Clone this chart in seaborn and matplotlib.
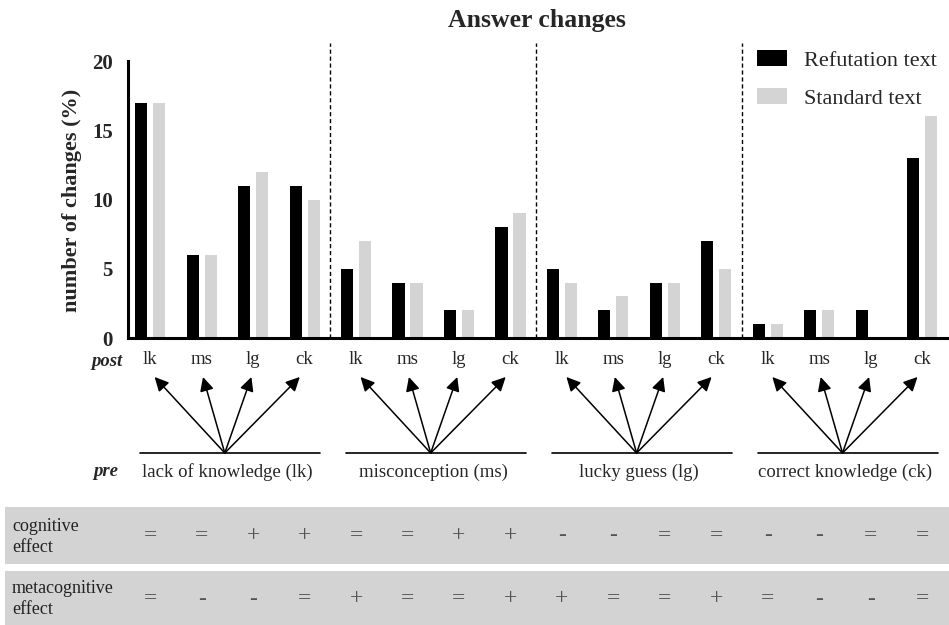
import numpy as np
import pandas as pd
import matplotlib
matplotlib.use("Agg")
import matplotlib.pyplot as plt
import matplotlib.transforms as mtransforms
from matplotlib.patches import Rectangle
import seaborn as sns

# ---------------- data ----------------
pre_states = ["lack of knowledge (lk)", "misconception (ms)",
              "lucky guess (lg)", "correct knowledge (ck)"]
pre_abbr = ["lk", "ms", "lg", "ck"]
post_labels = ["lk", "ms", "lg", "ck"]
series_names = ["Refutation text", "Standard text"]
refutation = [17, 6, 11, 11, 5, 4, 2, 8, 5, 2, 4, 7, 1, 2, 2, 13]
standard = [17, 6, 12, 10, 7, 4, 2, 9, 4, 3, 4, 5, 1, 2, 0, 16]
cognitive = ["=", "=", "+", "+", "=", "=", "+", "+",
             "-", "-", "=", "=", "-", "-", "=", "="]
metacognitive = ["=", "-", "-", "=", "+", "=", "=", "+",
                 "+", "=", "=", "+", "=", "-", "-", "="]
y_ticks = [0, 5, 10, 15, 20]
title = "Answer changes"
y_label = "number of changes (%)"

transitions = [f"{a}>{b}" for a in pre_abbr for b in post_labels]
df = pd.DataFrame({
    "transition": transitions * 2,
    "text": [series_names[0]] * 16 + [series_names[1]] * 16,
    "value": refutation + standard,
})

# ---------------- style ----------------
sns.set_style("white")
plt.rcParams["font.family"] = ["Liberation Serif", "DejaVu Serif"]

W, H = 949, 625
fig = plt.figure(figsize=(W / 100, H / 100), dpi=100)
ax = fig.add_axes([128 / W, (H - 338) / H, (947 - 128) / W, (338 - 43) / H])

sns.barplot(data=df, x="transition", y="value", hue="text",
            order=transitions, hue_order=series_names,
            palette=["black", "#d4d4d4"], saturation=1,
            width=0.7, gap=0.33, linewidth=0, errorbar=None, ax=ax)

ax.set_xlim(-0.43, 15.48)
ax.set_ylim(0, 21.3)
ax.set_yticks(y_ticks)
ax.set_yticklabels([str(t) for t in y_ticks], fontweight="bold", fontsize=15)
ax.set_xticks(range(16))
ax.set_xticklabels(post_labels * 4, fontsize=13.5)
ax.tick_params(axis="x", length=0, pad=9)
ax.tick_params(axis="y", length=9, width=2.2, pad=2, color="black")
for s in ["top", "right"]:
    ax.spines[s].set_visible(False)
for s in ["left", "bottom"]:
    ax.spines[s].set_linewidth(2.2)
    ax.spines[s].set_color("black")
ax.spines["left"].set_bounds(0, 20)
ax.set_xlabel("")
ax.set_ylabel("")

# separators between pre-states
for g in range(1, 4):
    ax.axvline(g * 4 - 0.5, ymin=0, ymax=1, color="black", lw=1,
               linestyle=(0, (3, 2)))

leg = ax.legend(frameon=False, loc="upper right", fontsize=16,
                handlelength=1.35, handleheight=0.7, handletextpad=0.75,
                labelspacing=0.78, borderaxespad=0.0,
                bbox_to_anchor=(0.998, 1.005))

fig.text(537 / W, 1 - 20 / H, title, ha="center", va="center",
         fontsize=18.5, fontweight="bold")
fig.text(72 / W, 1 - 200 / H, y_label, rotation=90, ha="center",
         va="center", fontsize=16, fontweight="bold")

# post / pre schematic
fig.text(123 / W, 1 - 361 / H, "post", ha="right", va="center",
         fontsize=13.5, fontweight="bold", fontstyle="italic")
fig.text(118 / W, 1 - 472 / H, "pre", ha="right", va="center",
         fontsize=13.5, fontweight="bold", fontstyle="italic")

bt = mtransforms.blended_transform_factory(ax.transData, ax.transAxes)
y_tip = -(377 - 338) / 295
y_base = -(453 - 338) / 295
y_pre = -(472 - 338) / 295
for g, name in enumerate(pre_states):
    origin = g * 4 + 1.45
    ax.plot([g * 4 - 0.2, g * 4 + 3.3], [y_base, y_base], transform=bt,
            color="black", lw=1.2, clip_on=False)
    for k in range(4):
        pos = g * 4 + k
        tip = pos + (origin - pos) * 0.06
        ax.annotate("", xy=(tip, y_tip), xytext=(origin, y_base),
                    xycoords=bt, textcoords=bt, annotation_clip=False,
                    arrowprops=dict(arrowstyle="-|>", color="black", lw=1.1,
                                    mutation_scale=21, shrinkA=0, shrinkB=0))
    ax.text(origin + 0.05, y_pre, name, transform=bt, ha="center",
            va="center", fontsize=13.5, clip_on=False)

# effect table
fig.add_artist(Rectangle((5 / W, (H - 564) / H), 1 - 5 / W, 57 / H,
                         transform=fig.transFigure, color="#d3d3d3",
                         zorder=0, lw=0))
fig.add_artist(Rectangle((5 / W, 0), 1 - 5 / W, (H - 571) / H,
                         transform=fig.transFigure, color="#d3d3d3",
                         zorder=0, lw=0))
fig.text(12 / W, 1 - 537 / H, "cognitive\neffect", ha="left", va="center",
         fontsize=13, linespacing=1.3, color="#222222")
fig.text(12 / W, 1 - 599 / H, "metacognitive\neffect", ha="left",
         va="center", fontsize=13, linespacing=1.3, color="#222222")
bf = mtransforms.blended_transform_factory(ax.transData, fig.transFigure)
for i in range(16):
    fig.text(i, 1 - 536 / H, cognitive[i], transform=bf, ha="center",
             va="center", fontsize=17, color="#555555")
    fig.text(i, 1 - 599 / H, metacognitive[i], transform=bf, ha="center",
             va="center", fontsize=17, color="#555555")

fig.savefig("out.png", dpi=100)
